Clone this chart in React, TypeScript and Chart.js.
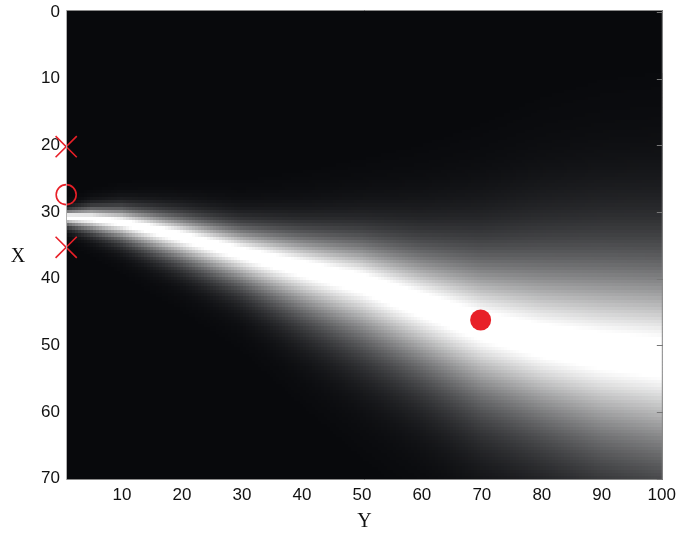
import React, { useEffect, useRef } from "react";
import { Chart, registerables } from "chart.js";

Chart.register(...registerables);

// Axis ticks
const X_TICKS = [10, 20, 30, 40, 50, 60, 70, 80, 90, 100];
const Y_TICKS = [0, 10, 20, 30, 40, 50, 60, 70];

// Beam (bright band): centre line and fall-off scale above/below
const BEAM_X = [1, 5, 10, 15, 20, 30, 40, 50, 60, 70, 80, 90, 100];
const BEAM_CENTER = [30.8, 31.0, 31.6, 32.6, 33.7, 36.1, 38.3, 40.5, 43.8, 47.0, 49.3, 50.8, 51.8];
const BEAM_UP = [0.9, 1.4, 1.9, 2.3, 2.7, 3.4, 4.5, 5.8, 7.5, 9.5, 11.5, 12.8, 13.5];
const BEAM_DOWN = [1.2, 1.8, 2.4, 3.0, 3.5, 4.6, 6.5, 8.3, 9.5, 11, 12, 13.5, 14.5];

// Red markers
const CROSS_POINTS = [
  { x: 0.7, y: 20.2 },
  { x: 0.7, y: 35.3 },
];
const CIRCLE_POINTS = [{ x: 0.7, y: 27.4 }];
const DOT_POINTS = [{ x: 69.8, y: 46.2 }];

const RED = "rgb(232,32,40)";

function interp(arr: number[], xv: number): number {
  if (xv <= BEAM_X[0]) return arr[0];
  for (let i = 1; i < BEAM_X.length; i++) {
    if (xv <= BEAM_X[i]) {
      const t = (xv - BEAM_X[i - 1]) / (BEAM_X[i] - BEAM_X[i - 1]);
      return arr[i - 1] + t * (arr[i] - arr[i - 1]);
    }
  }
  return arr[arr.length - 1];
}

const heatmapPlugin = {
  id: "beamHeatmap",
  beforeDatasetsDraw(chart: any) {
    const { ctx, chartArea, scales } = chart;
    const xs = scales.x;
    const ys = scales.y;
    ctx.save();
    ctx.beginPath();
    ctx.rect(chartArea.left, chartArea.top, chartArea.right - chartArea.left, chartArea.bottom - chartArea.top);
    ctx.clip();
    ctx.fillStyle = "rgb(8,9,12)";
    ctx.fillRect(chartArea.left, chartArea.top, chartArea.right - chartArea.left, chartArea.bottom - chartArea.top);
    const step = 0.5;
    for (let xv = 0.5; xv <= 100.5; xv += step) {
      const c = interp(BEAM_CENTER, xv);
      const su = interp(BEAM_UP, xv);
      const sd = interp(BEAM_DOWN, xv);
      const x0 = Math.floor(xs.getPixelForValue(xv - step / 2));
      const x1 = Math.ceil(xs.getPixelForValue(xv + step / 2));
      for (let yv = -0.5; yv <= 71; yv += step) {
        const d = Math.abs(yv - c);
        const s = yv < c ? su : sd;
        const g = Math.exp(-Math.pow(d / s, 1.5));
        const L = Math.min(1, 1.1 * g);
        if (L < 0.004) continue;
        const y0 = Math.floor(ys.getPixelForValue(yv - step / 2));
        const y1 = Math.ceil(ys.getPixelForValue(yv + step / 2));
        const r = Math.round(8 + L * 247);
        const gg = Math.round(9 + L * 246);
        const b = Math.round(12 + L * 243);
        ctx.fillStyle = `rgb(${r},${gg},${b})`;
        ctx.fillRect(x0, y0, x1 - x0, y1 - y0);
      }
    }
    ctx.restore();
  },
  afterDatasetsDraw(chart: any) {
    const { ctx, chartArea, scales } = chart;
    const ys = scales.y;
    ctx.save();
    // frame
    ctx.strokeStyle = "#8a8a8a";
    ctx.lineWidth = 1;
    ctx.beginPath();
    ctx.moveTo(chartArea.left + 0.5, chartArea.top + 0.5);
    ctx.lineTo(chartArea.right - 0.5, chartArea.top + 0.5);
    ctx.lineTo(chartArea.right - 0.5, chartArea.bottom - 0.5);
    ctx.lineTo(chartArea.left + 0.5, chartArea.bottom - 0.5);
    ctx.stroke();
    ctx.strokeStyle = "#b0b0b0";
    ctx.beginPath();
    ctx.moveTo(chartArea.left + 0.5, chartArea.top);
    ctx.lineTo(chartArea.left + 0.5, chartArea.bottom);
    ctx.stroke();
    // inward ticks on right edge
    ctx.strokeStyle = "#777";
    ctx.beginPath();
    for (const v of Y_TICKS) {
      const py = Math.round(ys.getPixelForValue(v)) + 0.5;
      ctx.moveTo(chartArea.right - 6, py);
      ctx.lineTo(chartArea.right, py);
    }
    ctx.stroke();
    // vertical axis title (upright)
    ctx.fillStyle = "#111";
    ctx.font = '20px "Liberation Serif", "Times New Roman", serif';
    ctx.textAlign = "center";
    ctx.textBaseline = "middle";
    ctx.fillText("X", 18, (chartArea.top + chartArea.bottom) / 2 + 12);
    ctx.restore();
  },
};

export default function App() {
  const canvasRef = useRef<HTMLCanvasElement | null>(null);

  useEffect(() => {
    if (!canvasRef.current) return;
    const family = '"Liberation Sans", Arial, Helvetica, sans-serif';
    const chart = new Chart(canvasRef.current, {
      type: "scatter",
      data: {
        datasets: [
          {
            data: CROSS_POINTS,
            pointStyle: "crossRot",
            pointRadius: 15,
            borderColor: RED,
            backgroundColor: RED,
            pointBorderWidth: 1.6,
            clip: false,
          } as any,
          {
            data: CIRCLE_POINTS,
            pointStyle: "circle",
            pointRadius: 10,
            borderColor: RED,
            backgroundColor: "rgba(0,0,0,0)",
            pointBorderWidth: 1.6,
            clip: false,
          } as any,
          {
            data: DOT_POINTS,
            pointStyle: "circle",
            pointRadius: 10.5,
            borderColor: RED,
            backgroundColor: RED,
            pointBorderWidth: 0,
            clip: false,
          } as any,
        ],
      },
      options: {
        animation: false,
        responsive: false,
        events: [],
        layout: { autoPadding: false, padding: { top: 10, right: 14, bottom: 0, left: 0 } },
        plugins: { legend: { display: false }, tooltip: { enabled: false } },
        scales: {
          x: {
            type: "linear",
            min: 0.67,
            max: 100.17,
            grid: { display: false, drawTicks: false },
            border: { display: false },
            afterBuildTicks: (scale: any) => {
              scale.ticks = X_TICKS.map((v) => ({ value: v }));
            },
            afterFit: (scale: any) => {
              scale.height = 56;
            },
            ticks: {
              font: { family, size: 17, lineHeight: 1.67 },
              color: "#111",
              padding: 1,
              maxRotation: 0,
              autoSkip: false,
            },
            title: {
              display: true,
              text: "Y",
              color: "#111",
              font: { family: '"Liberation Serif", "Times New Roman", serif', size: 20 },
              padding: { top: 0, bottom: 2 },
            },
          },
          y: {
            type: "linear",
            reverse: true,
            min: -0.3,
            max: 70.2,
            grid: { display: false, drawTicks: false },
            border: { display: false },
            afterBuildTicks: (scale: any) => {
              scale.ticks = Y_TICKS.map((v) => ({ value: v }));
            },
            afterFit: (scale: any) => {
              scale.width = 66;
            },
            ticks: {
              font: { family, size: 17, lineHeight: 0.4 },
              color: "#111",
              padding: 6,
              autoSkip: false,
            },
          },
        },
      },
      plugins: [heatmapPlugin],
    });
    return () => chart.destroy();
  }, []);

  return (
    <canvas
      ref={canvasRef}
      width={677}
      height={536}
      style={{ position: "absolute", left: 0, top: 0, width: 677, height: 536 }}
    />
  );
}
